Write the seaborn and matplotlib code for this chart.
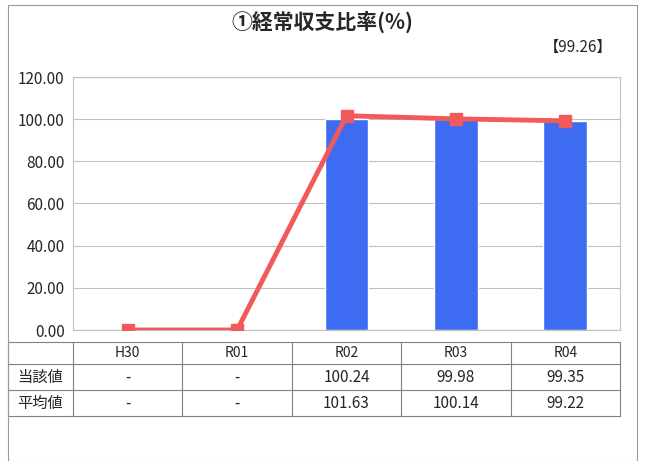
import matplotlib
matplotlib.use("Agg")
import matplotlib.pyplot as plt
import seaborn as sns
import numpy as np
import pandas as pd
from matplotlib.transforms import blended_transform_factory

sns.set_theme(style="white")
plt.rcParams['font.family'] = ['Noto Sans CJK JP', 'DejaVu Sans']

categories = ["H30", "R01", "R02", "R03", "R04"]
bar_values = [0, 0, 100.24, 99.98, 99.35]
line_values = [0, 0, 101.63, 100.14, 99.22]
bar_labels = ["-", "-", "100.24", "99.98", "99.35"]
line_labels = ["-", "-", "101.63", "100.14", "99.22"]
row_names = ["当該値", "平均値"]
title = "①経常収支比率(%)"
avg_note = "【99.26】"

fig = plt.figure(figsize=(6.45, 4.61), dpi=100)
ax = fig.add_axes([73/645, 1-330/461, (620-73)/645, 253/461])
df = pd.DataFrame({"cat": categories, "bar": bar_values, "line": line_values})
sns.barplot(data=df, x="cat", y="bar", color="#3d6bf2", width=0.4, ax=ax, saturation=1)
ax.plot(range(len(categories)), line_values, color="#f05a5a", lw=3.5, marker="s",
        markersize=8, zorder=5)
ax.set_ylim(0, 120)
ax.set_xlim(-0.5, 4.5)
ax.set_yticks(np.arange(0, 121, 20))
ax.set_yticklabels([f"{v:.2f}" for v in np.arange(0, 121, 20)], fontsize=11)
ax.set_xticks([])
ax.set_xlabel(""); ax.set_ylabel("")
ax.yaxis.grid(True, color="#bfbfbf", lw=0.8)
ax.set_axisbelow(True)
for s in ax.spines.values():
    s.set_color("#bfbfbf"); s.set_linewidth(0.8)
ax.tick_params(axis="y", length=0, pad=6)

# table
tr = blended_transform_factory(ax.transData, ax.transAxes)
px = lambda y: (330 - y) / 253
rows_y = [px(342), px(364), px(390), px(416)]
left_x = (8/645 - 73/645) / ((620-73)/645) * 5 - 0.5
for y in rows_y:
    ax.plot([left_x, 4.5], [y, y], transform=tr, color="#808080", lw=0.8, clip_on=False)
for x in [left_x] + list(np.arange(-0.5, 5, 1)):
    ax.plot([x, x], [rows_y[0], rows_y[-1]], transform=tr, color="#808080", lw=0.8, clip_on=False)
for i, c in enumerate(categories):
    ax.text(i, (rows_y[0]+rows_y[1])/2, c, transform=tr, ha="center", va="center", fontsize=10)
    ax.text(i, (rows_y[1]+rows_y[2])/2, bar_labels[i], transform=tr, ha="center", va="center", fontsize=11)
    ax.text(i, (rows_y[2]+rows_y[3])/2, line_labels[i], transform=tr, ha="center", va="center", fontsize=11)
for j, name in enumerate(row_names):
    ax.text((left_x - 0.5)/2, (rows_y[j+1]+rows_y[j+2])/2, name, transform=tr,
            ha="center", va="center", fontsize=11)

fig.text(0.5, 1-22/461, title, ha="center", va="center", fontsize=15, fontweight="bold")
fig.text(612/645, 1-47/461, avg_note, ha="right", va="center", fontsize=11)
fig.patches.append(plt.Rectangle((8/645, 0), 629/645, 1-5/461, transform=fig.transFigure,
                                 fill=False, edgecolor="#999999", lw=0.8))
fig.savefig("out.png", dpi=100)
